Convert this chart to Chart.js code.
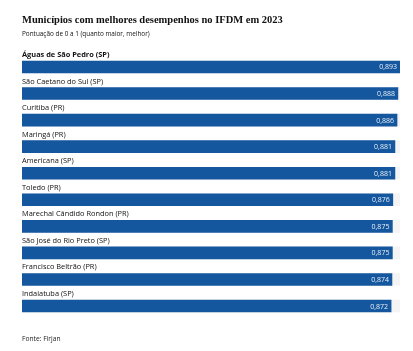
<!DOCTYPE html>
<html><head><meta charset="utf-8">
<script src="https://cdn.jsdelivr.net/npm/chart.js@4"></script>
<style>
html,body{margin:0;padding:0;background:#fff;}
#wrap{position:relative;width:413px;height:351px;overflow:hidden;}
canvas{position:absolute;left:0;top:0;}
.t{position:absolute;left:22px;white-space:nowrap;color:#111;}
#title{top:14px;font:bold 10.5px "Liberation Serif",serif;}
#sub{top:29px;font:6.4px "Open Sans",sans-serif;}
#foot{top:334px;font:6.7px "Open Sans",sans-serif;color:#222;}
</style></head><body>
<div id="wrap">
<canvas id="c" width="413" height="351"></canvas>
<div class="t" id="title">Municípios com melhores desempenhos no IFDM em 2023</div>
<div class="t" id="sub">Pontuação de 0 a 1 (quanto maior, melhor)</div>
<div class="t" id="foot">Fonte: Firjan</div>
</div>
<script>
const categories = ["Águas de São Pedro (SP)","São Caetano do Sul (SP)","Curitiba (PR)","Maringá (PR)","Americana (SP)","Toledo (PR)","Marechal Cândido Rondon (PR)","São José do Rio Preto (SP)","Francisco Beltrão (PR)","Indaiatuba (SP)"];
const values = [0.893,0.888,0.886,0.881,0.881,0.876,0.875,0.875,0.874,0.872];
const valueLabels = ["0,893","0,888","0,886","0,881","0,881","0,876","0,875","0,875","0,874","0,872"];
const trackMax = 0.893;
const track = categories.map(()=>trackMax);

const labelPlugin = {
  id:'labels',
  afterDatasetsDraw(chart){
    const ctx = chart.ctx;
    const meta = chart.getDatasetMeta(0);
    ctx.save();
    meta.data.forEach((bar,i)=>{
      const top = bar.y - bar.height/2;
      ctx.fillStyle = '#111';
      ctx.textAlign='left';
      ctx.textBaseline='alphabetic';
      ctx.font = (i===0?'bold ':'')+'7.4px "Open Sans", sans-serif';
      ctx.fillText(categories[i], chart.chartArea.left, top-4);
      ctx.fillStyle = '#e6eef8';
      ctx.textAlign='right';
      ctx.textBaseline='middle';
      ctx.font = '7px "Open Sans", sans-serif';
      ctx.fillText(valueLabels[i], bar.x-3, bar.y+0.5);
    });
    ctx.restore();
  }
};

new Chart(document.getElementById('c'),{
  type:'bar',
  data:{labels:categories,datasets:[
    {data:values,backgroundColor:'#15579e',barThickness:12,grouped:false,order:0},
    {data:track,backgroundColor:'#f4f4f4',barThickness:12,grouped:false,order:1}
  ]},
  options:{
    indexAxis:'y',responsive:false,animation:false,
    layout:{padding:{left:22,right:13,top:53.7,bottom:31.7}},
    plugins:{legend:{display:false},tooltip:{enabled:false}},
    scales:{
      x:{display:false,min:0,max:trackMax},
      y:{display:false}
    }
  },
  plugins:[labelPlugin]
});
</script>
</body></html>
